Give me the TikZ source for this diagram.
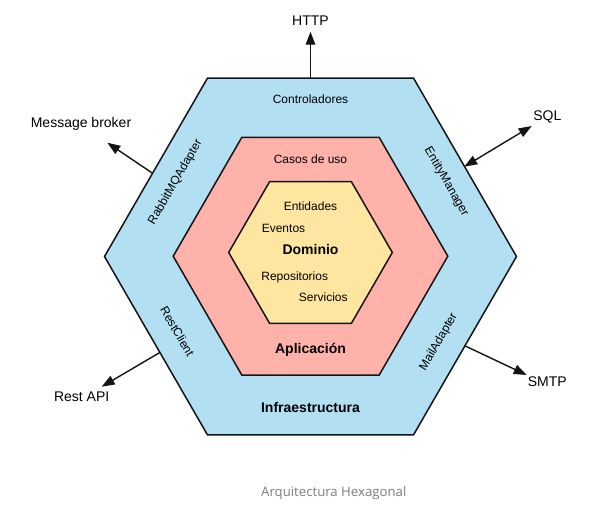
\documentclass[tikz,border=0pt]{standalone}
\usepackage{fontspec}
\setmainfont{Liberation Sans}
\newfontfamily\capfont{Open Sans}
\usetikzlibrary{arrows.meta}
\definecolor{infra}{RGB}{179,223,242}
\definecolor{app}{RGB}{255,178,170}
\definecolor{dom}{RGB}{255,230,160}
\definecolor{edge}{RGB}{20,20,20}
\definecolor{capgray}{RGB}{125,125,125}
\tikzset{
  hexline/.style={draw=edge, line width=1.5pt, line join=miter},
  arr/.style={draw=edge, line width=1.4pt, -{Triangle[length=13pt,width=9.5pt]}},
  biarr/.style={draw=edge, line width=1.4pt, {Triangle[length=13pt,width=9.5pt]}-{Triangle[length=13pt,width=9.5pt]}},
  lbl/.style={inner sep=0pt, text height=0.716em, text depth=0pt, text=black},
  outlbl/.style={lbl, font=\fontsize{14}{16}\selectfont},
  inlbl/.style={lbl, font=\fontsize{12}{14}\selectfont},
  boldlbl/.style={lbl, font=\fontsize{14}{16}\selectfont\bfseries},
}
\begin{document}
\begin{tikzpicture}[x=1pt,y=-1pt]
\useasboundingbox (0,0) rectangle (603,507);
% hexagons
\draw[hexline, fill=infra] (104.5,256.5) -- (207.5,78.1) -- (413.5,78.1) -- (516.5,256.5) -- (413.5,434.9) -- (207.5,434.9) -- cycle;
\draw[hexline, fill=app] (173.2,256.2) -- (241.85,137.3) -- (379.15,137.3) -- (447.8,256.2) -- (379.15,375.1) -- (241.85,375.1) -- cycle;
\draw[hexline, fill=dom] (228.7,252.5) -- (269.6,181.66) -- (351.4,181.66) -- (392.3,252.5) -- (351.4,323.34) -- (269.6,323.34) -- cycle;
% labels inside
\node[inlbl] (ctrl) at (310.5,100) {Controladores};
\node[inlbl] (casos) at (310.5,160) {Casos de uso};
\node[inlbl] (ent) at (310.5,207.3) {Entidades};
\node[inlbl] (evt) at (283.5,229.3) {Eventos};
\node[boldlbl] (dominio) at (310.5,250.7) {Dominio};
\node[inlbl] (repo) at (294.7,277) {Repositorios};
\node[inlbl] (serv) at (323.3,298.3) {Servicios};
\node[boldlbl] (aplic) at (310.5,350) {Aplicación};
\node[boldlbl] (infra) at (310.5,409.3) {Infraestructura};
\node[inlbl, rotate=60] (rabbit) at (175,182) {RabbitMQAdapter};
\node[inlbl, rotate=-60] (entity) at (446.7,181.7) {EntityManager};
\node[inlbl, rotate=-60] (rest) at (176.7,331.7) {RestClient};
\node[inlbl, rotate=60] (mail) at (438.3,341.7) {MailAdapter};
% outside labels
\node[outlbl] (http) at (310.5,21.7) {HTTP};
\node[outlbl] (mb) at (81,124.3) {Message broker};
\node[outlbl] (sql) at (547.3,116.7) {SQL};
\node[outlbl] (smtp) at (547.3,383.3) {SMTP};
\node[outlbl] (restapi) at (81.7,398.3) {Rest API};
% connector ends
\coordinate (httpS) at (310.5,78.1);
\coordinate (httpT) at (310.5,31.7);
\coordinate (mbS) at (152.2,173);
\coordinate (mbT) at (107.3,142.7);
\coordinate (sqlS) at (464.2,166.7);
\coordinate (sqlT) at (531.7,126);
\coordinate (smtpS) at (465.3,346);
\coordinate (smtpT) at (526.7,375);
\coordinate (restS) at (159.5,352.7);
\coordinate (restT) at (101.7,386.7);
\draw[arr] (httpS) -- (httpT);
\draw[arr] (mbS) -- (mbT);
\draw[biarr] (sqlS) -- (sqlT);
\draw[arr] (smtpS) -- (smtpT);
\draw[arr] (restS) -- (restT);
% caption
\node[inner sep=0pt, text height=0.716em, text depth=0pt, text=capgray, font=\capfont\fontsize{13.2}{15}\selectfont] (caption) at (333.8,493.3) {Arquitectura Hexagonal};
\end{tikzpicture}
\end{document}
